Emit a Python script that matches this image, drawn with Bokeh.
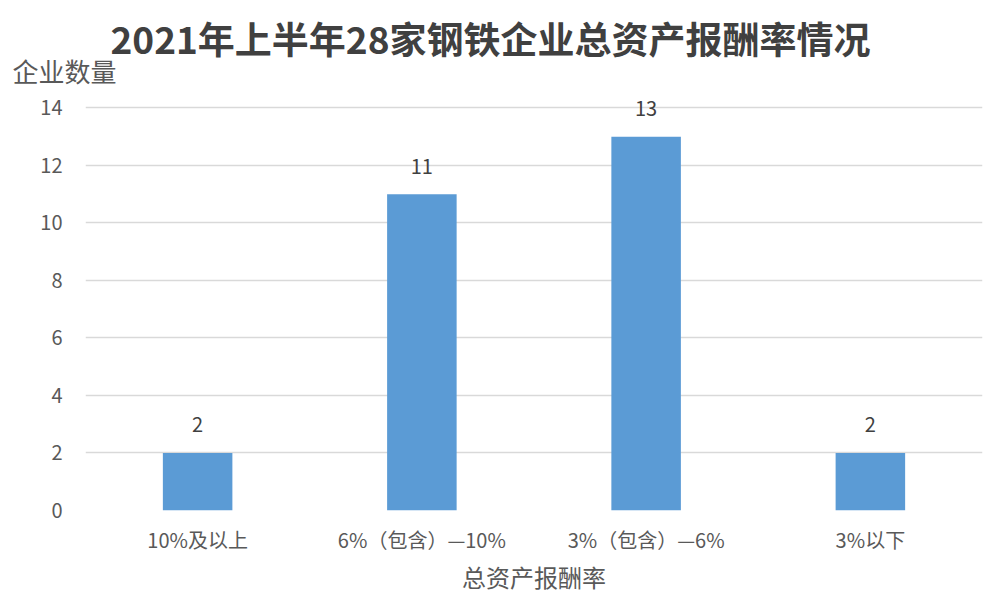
from bokeh.plotting import figure
from bokeh.models import ColumnDataSource, LabelSet, Range1d, FixedTicker, Title
from bokeh.core.properties import value
from bokeh.embed import file_html
from bokeh.resources import INLINE

# data
categories = ["10%及以上", "6%（包含）—10%", "3%（包含）—6%", "3%以下"]
counts = [2, 11, 13, 2]
y_ticks = [0, 2, 4, 6, 8, 10, 12, 14]

title_text = "2021年上半年28家钢铁企业总资产报酬率情况"
y_title = "企业数量"
x_title = "总资产报酬率"

FONT = "Noto Sans CJK SC"
GREY = "#595959"

source = ColumnDataSource(data=dict(cat=categories, n=counts, label=[str(c) for c in counts]))

p = figure(
    x_range=categories,
    y_range=Range1d(0, 14.5),
    frame_width=897,
    frame_height=417,
    output_backend="svg",
    toolbar_location=None,
    min_border_left=85,
    min_border_right=4,
    min_border_top=93,
    min_border_bottom=10,
)

# bars
p.vbar(x="cat", top="n", width=0.31, source=source,
       fill_color="#5B9BD5", line_color=None)

# values above the bars
labels = LabelSet(x="cat", y="n", text="label", source=source,
                  y_offset=28, text_align="center", text_baseline="middle",
                  text_font_size="20px", text_color="#404040", text_font=value(FONT))
p.add_layout(labels)

# axes styling
p.yaxis.ticker = FixedTicker(ticks=y_ticks)
p.yaxis.axis_line_color = None
p.yaxis.major_tick_line_color = None
p.yaxis.minor_tick_line_color = None
p.yaxis.major_label_standoff = 17
p.yaxis.major_label_text_font_size = "20px"
p.yaxis.major_label_text_color = GREY
p.yaxis.major_label_text_font = FONT

p.xaxis.axis_line_color = None
p.xaxis.major_tick_line_color = None
p.xaxis.major_label_standoff = 8
p.xaxis.major_label_text_font_size = "20px"
p.xaxis.major_label_text_color = GREY
p.xaxis.major_label_text_font = FONT
p.xaxis.axis_label = x_title
p.xaxis.axis_label_standoff = 2
p.xaxis.axis_label_text_font_size = "24px"
p.xaxis.axis_label_text_font_style = "normal"
p.xaxis.axis_label_text_color = GREY
p.xaxis.axis_label_text_font = FONT

p.xgrid.grid_line_color = None
p.ygrid.grid_line_color = "#d9d9d9"
p.ygrid.grid_line_width = 1.5
p.outline_line_color = None

# y caption (nearest the frame) and main title stacked above the plot
p.add_layout(Title(text=y_title, align="left", offset=-73, standoff=10,
                   text_font_size="26px", text_font_style="normal",
                   text_color=GREY, text_font=FONT), "above")
p.add_layout(Title(text=title_text, align="left", offset=25, standoff=-41,
                   text_font_size="37px", text_font_style="bold",
                   text_color="#404040", text_font=FONT), "above")

open("out.html", "w").write(file_html(p, INLINE))
